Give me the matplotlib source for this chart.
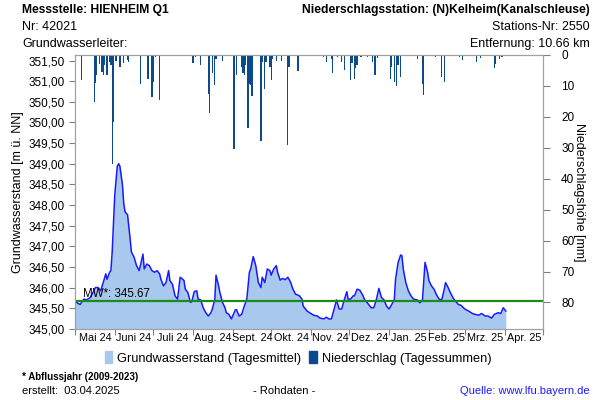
import numpy as np
import pandas as pd
import matplotlib
matplotlib.use('Agg')
import matplotlib.pyplot as plt
from matplotlib.patches import Patch

plt.rcParams['font.family'] = ['Liberation Sans', 'DejaVu Sans']

# groundwater level (daily means): days since 01.05.2024
gw_days = [0, 2, 4, 7, 9, 12, 16, 18, 20, 22, 24, 25, 27, 28, 29, 31, 33, 34, 35, 37,
           38, 39, 41, 43, 44, 46, 48, 50, 51, 53, 54, 56, 58, 60, 62, 64, 66, 67, 69, 71,
           73, 74, 76, 78, 80, 82, 84, 85, 86, 88, 90, 91, 93, 95, 96, 98, 100, 102, 104, 106,
           107, 109, 110, 112, 113, 115, 117, 118, 120, 122, 123, 125, 126, 128, 130, 132, 134, 136, 137, 139,
           141, 143, 145, 146, 148, 150, 152, 153, 155, 157, 158, 160, 162, 164, 166, 168, 170, 172, 175, 177,
           178, 181, 184, 186, 189, 191, 194, 196, 198, 200, 202, 204, 206, 208, 210, 212, 213, 215, 217, 218,
           220, 222, 224, 226, 228, 231, 233, 235, 237, 239, 241, 243, 245, 247, 249, 250, 252, 254, 255, 256,
           258, 260, 262, 264, 267, 269, 271, 273, 275, 276, 278, 280, 282, 284, 286, 288, 289, 291, 293, 295,
           297, 299, 301, 304, 307, 310, 312, 315, 317, 320, 322, 325, 327, 330, 332, 334, 336]
gw_level = [345.70, 345.62, 345.59, 345.72, 345.70, 345.76, 346.00, 346.00, 345.92, 346.12,
            346.33, 346.20, 346.37, 346.41, 346.86, 348.24, 348.94, 349.00, 348.94, 348.49,
            348.04, 347.84, 347.76, 347.18, 346.86, 346.74, 346.53, 346.41, 346.53, 346.81,
            346.45, 346.57, 346.53, 346.41, 346.37, 346.41, 346.33, 346.20, 346.04, 346.12,
            346.41, 346.17, 346.08, 345.80, 345.72, 346.25, 346.20, 346.17, 345.96, 345.88,
            345.64, 345.65, 345.90, 345.92, 345.72, 345.70, 345.51, 345.39, 345.31, 345.39,
            345.47, 345.70, 346.30, 346.04, 345.88, 345.64, 345.51, 345.39, 345.35, 345.24,
            345.31, 345.46, 345.46, 345.31, 345.35, 345.55, 345.72, 346.37, 346.45, 346.75,
            346.53, 346.12, 346.00, 346.25, 346.12, 346.45, 346.41, 346.30, 346.45, 346.53,
            346.37, 346.18, 346.22, 346.19, 346.25, 346.14, 345.96, 345.84, 345.80, 345.72,
            345.55, 345.43, 345.37, 345.33, 345.31, 345.26, 345.24, 345.28, 345.24, 345.24,
            345.47, 345.70, 345.48, 345.48, 345.70, 345.90, 345.72, 345.72, 345.80, 345.80,
            345.96, 345.94, 345.84, 345.70, 345.63, 345.51, 345.51, 345.70, 345.98, 345.76,
            345.70, 345.55, 345.48, 345.59, 345.70, 346.20, 346.61, 346.79, 346.77, 346.45,
            346.12, 345.92, 345.80, 345.72, 345.70, 345.63, 345.70, 346.61, 346.37, 346.17,
            346.04, 345.96, 345.82, 345.72, 345.70, 345.96, 346.12, 346.00, 345.86, 345.74,
            345.66, 345.59, 345.57, 345.48, 345.43, 345.37, 345.35, 345.33, 345.37, 345.31,
            345.31, 345.26, 345.35, 345.39, 345.37, 345.51, 345.43]
mw = 345.67

# precipitation (daily sums, mm)
rain_days = [5, 15, 16, 17, 19, 21, 22, 23, 25, 27, 28, 29, 30, 32, 35, 38, 41, 42, 51, 57,
             60, 61, 63, 66, 92, 94, 98, 104, 105, 107, 109, 110, 115, 124, 126, 130, 131, 132, 133, 135,
             136, 137, 138, 145, 146, 148, 149, 152, 153, 154, 157, 161, 166, 167, 174, 194, 196, 200, 201, 205,
             208, 210, 215, 216, 218, 219, 220, 223, 228, 232, 234, 236, 246, 247, 249, 251, 252, 254, 267, 271,
             272, 281, 286, 288, 300, 302, 313, 316, 327, 328, 331, 333]
rain_mm = [8.2, 15.2, 9.0, 6.6, 3.0, 5.5, 6.6, 3.3, 6.6, 2.3, 3.3, 35.2, 21.7, 2.0, 3.9, 2.8, 1.7, 2.3, 9.3, 7.7,
           13.6, 8.7, 0.7, 14.7, 2.8, 0.6, 3.3, 12.8, 18.7, 6.0, 9.8, 1.2, 2.0, 30.3, 6.4, 3.9, 6.0, 6.6, 3.3, 23.6,
           9.3, 9.8, 13.3, 27.9, 2.3, 11.1, 2.3, 3.9, 8.2, 1.2, 2.0, 2.0, 29.2, 3.9, 5.3, 0.6, 2.3, 1.2, 6.0, 0.6,
           2.3, 4.9, 8.0, 2.8, 7.7, 4.2, 3.3, 0.6, 0.6, 2.3, 6.6, 1.0, 7.9, 3.9, 8.7, 10.0, 3.3, 7.1, 1.4, 9.3,
           13.0, 0.6, 7.1, 8.9, 0.6, 1.7, 2.3, 1.0, 4.4, 3.1, 1.2, 0.6]

month_labels = ['Mai 24', 'Juni 24', 'Juli 24', 'Aug. 24', 'Sept. 24', 'Okt. 24',
                'Nov. 24', 'Dez. 24', 'Jan. 25', 'Feb. 25', 'Mrz. 25', 'Apr. 25']

start = pd.Timestamp('2024-05-01')
gw_dates = start + pd.to_timedelta(gw_days, unit='D')
rain_dates = start + pd.to_timedelta(rain_days, unit='D')
month_starts = pd.date_range(start, periods=13, freq='MS')
month_mids = month_starts[:-1] + (month_starts[1:] - month_starts[:-1]) / 2

grey = '#a0a0a0'

fig = plt.figure(figsize=(6, 4), dpi=100)
ax = fig.add_axes([0.125, 0.178, 0.78, 0.685])

ax.fill_between(gw_dates, gw_level, 340, color='#a8c8ee', lw=0)
ax.plot(gw_dates, gw_level, color='#1a1aff', lw=1.1)
ax.axhline(mw, color='#1a8c1a', lw=1.6)
ax.text(start + pd.Timedelta(days=6), mw + 0.03, 'MW*: 345.67', fontsize=8.3, va='bottom')

ax.set_ylim(345.0, 351.64)
yt = np.arange(345.0, 351.51, 0.5)
ax.set_yticks(yt)
ax.set_yticklabels([('%.2f' % v).replace('.', ',') for v in yt], fontsize=8.5)
ax.set_xlim(month_starts[0], month_starts[-1])
ax.set_xticks(month_starts)
ax.set_xticklabels([])
ax.set_xticks(month_mids, minor=True)
ax.set_xticklabels(month_labels, minor=True, fontsize=7.8)
ax.tick_params(axis='x', which='minor', length=0, pad=3)
ax.tick_params(axis='both', which='major', color='#808080', length=4)
ax.set_ylabel('Grundwasserstand [m ü. NN]', fontsize=9, labelpad=3)

ax2 = ax.twinx()
ax2.bar(rain_dates, rain_mm, width=1.0, color='#0b4a8b', lw=0)
ax2.set_ylim(88.5, 0)
ax2.set_yticks(range(0, 81, 10))
ax2.tick_params(axis='y', color='#808080', length=5, labelsize=8.5, pad=8)
ax2.set_ylabel('Niederschlagshöhe [mm]', fontsize=9, rotation=-90, labelpad=8)

for a in (ax, ax2):
    for s in a.spines.values():
        s.set_color(grey)

# header
fig.text(0.037, 0.975, 'Messstelle: HIENHEIM Q1', fontsize=8.7, fontweight='bold', va='center')
fig.text(0.037, 0.932, 'Nr: 42021', fontsize=9, va='center')
fig.text(0.037, 0.89, 'Grundwasserleiter:', fontsize=9, va='center')
fig.text(0.983, 0.975, 'Niederschlagsstation: (N)Kelheim(Kanalschleuse)', fontsize=8.7,
         fontweight='bold', va='center', ha='right')
fig.text(0.983, 0.932, 'Stations-Nr: 2550', fontsize=9, va='center', ha='right')
fig.text(0.983, 0.89, 'Entfernung: 10.66 km', fontsize=9, va='center', ha='right')

handles = [Patch(color='#a8c8ee'), Patch(color='#0b4a8b')]
fig.legend(handles, ['Grundwasserstand (Tagesmittel)', 'Niederschlag (Tagessummen)'],
           loc='center', bbox_to_anchor=(0.497, 0.105), ncol=2, frameon=False,
           fontsize=9.2, handlelength=0.6, handleheight=1.0, handletextpad=0.4, columnspacing=0.6)

# footer
fig.text(0.037, 0.058, '* Abflussjahr (2009-2023)', fontsize=7, fontweight='bold', va='center')
fig.text(0.037, 0.023, 'erstellt:  03.04.2025', fontsize=8, va='center')
fig.text(0.473, 0.023, '- Rohdaten -', fontsize=8, va='center', ha='center')
fig.text(0.983, 0.023, 'Quelle: www.lfu.bayern.de', fontsize=8, va='center', ha='right', color='#1a1aff')

fig.savefig('out.png', dpi=100)
